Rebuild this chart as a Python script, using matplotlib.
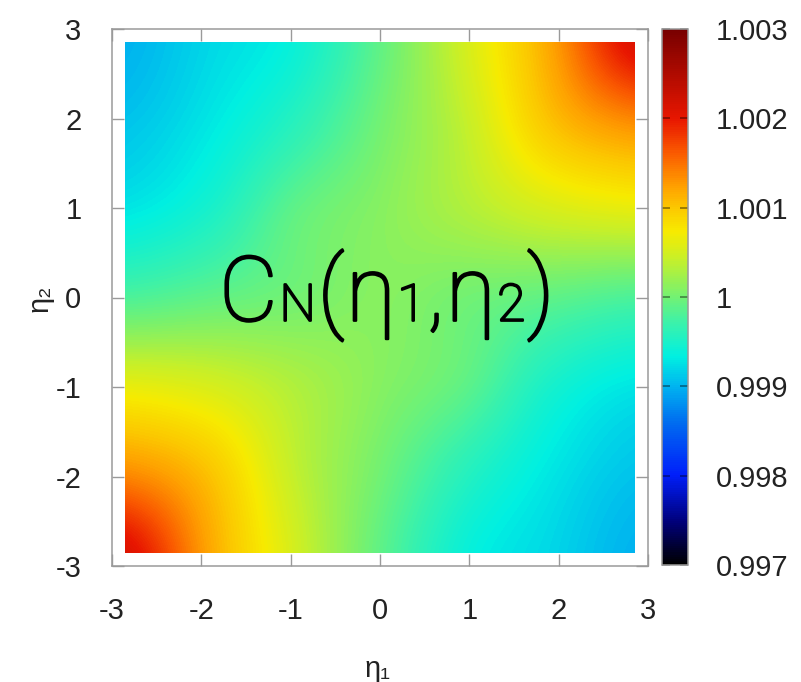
import matplotlib
matplotlib.use("Agg")
import matplotlib.pyplot as plt
import matplotlib.patheffects as pe
import numpy as np
from matplotlib.colors import LinearSegmentedColormap
from matplotlib.patches import Rectangle

plt.rcParams['font.family'] = ['Liberation Sans', 'DejaVu Sans']
plt.rcParams['axes.unicode_minus'] = False

### Data ###

# grid nodes, same for eta1 (columns) and eta2 (rows)
eta_nodes = [-2.85, -1.9, -0.95, 0.0, 0.95, 1.9, 2.85]

# C_N values, first row is eta2 = 2.85, last row eta2 = -2.85
c_rows = [
    [0.9990, 0.9992, 0.9994, 0.9999, 1.0005, 1.0012, 1.0021],
    [0.9991, 0.9993, 0.9996, 1.0000, 1.0004, 1.0010, 1.0013],
    [0.9993, 0.9995, 0.9999, 1.0001, 1.0003, 1.0005, 1.0006],
    [0.9998, 0.9999, 1.0000, 1.0001, 1.0000, 0.9999, 0.9998],
    [1.0006, 1.0005, 1.0003, 1.0001, 0.9999, 0.9995, 0.9993],
    [1.0013, 1.0010, 1.0004, 1.0000, 0.9996, 0.9993, 0.9991],
    [1.0021, 1.0012, 1.0005, 0.9999, 0.9994, 0.9992, 0.9990],
]

axis_ticks = [-3, -2, -1, 0, 1, 2, 3]
cbar_ticks = [0.997, 0.998, 0.999, 1.0, 1.001, 1.002, 1.003]
cbar_labels = ['0.997', '0.998', '0.999', '1', '1.001', '1.002', '1.003']

### Palette (gnuplot-like) ###
palette = LinearSegmentedColormap.from_list('cn', [
    (0.000, (0, 0, 0)),
    (0.078, (0, 0, 120 / 255)),
    (0.167, (0, 30 / 255, 250 / 255)),
    (0.267, (0, 110 / 255, 240 / 255)),
    (0.333, (0, 180 / 255, 240 / 255)),
    (0.389, (0, 240 / 255, 225 / 255)),
    (0.452, (60 / 255, 242 / 255, 170 / 255)),
    (0.500, (115 / 255, 242 / 255, 115 / 255)),
    (0.572, (200 / 255, 240 / 255, 40 / 255)),
    (0.622, (247 / 255, 235 / 255, 0)),
    (0.667, (252 / 255, 200 / 255, 0)),
    (0.707, (255 / 255, 160 / 255, 0)),
    (0.770, (250 / 255, 90 / 255, 0)),
    (0.833, (232 / 255, 22 / 255, 0)),
    (1.000, (120 / 255, 0, 0)),
])

W, H = 801, 682
fig = plt.figure(figsize=(W / 100, H / 100), dpi=100)
ax = fig.add_axes([112 / W, 1 - 566 / H, 536 / W, 537 / H])
cax = fig.add_axes([662 / W, 1 - 565 / H, 26 / W, 536 / H])

Z = np.array(c_rows)
half = (eta_nodes[1] - eta_nodes[0]) / 2
im = ax.imshow(
    Z,
    extent=[eta_nodes[0] - half, eta_nodes[-1] + half,
            eta_nodes[0] - half, eta_nodes[-1] + half],
    origin='upper',
    interpolation='catrom',
    interpolation_stage='data',
    cmap=palette,
    vmin=cbar_ticks[0], vmax=cbar_ticks[-1],
    aspect='auto',
)
im.set_clip_path(Rectangle((eta_nodes[0], eta_nodes[0]),
                           eta_nodes[-1] - eta_nodes[0],
                           eta_nodes[-1] - eta_nodes[0],
                           transform=ax.transData))

ax.set_xlim(-3, 3)
ax.set_ylim(-3, 3)
ax.set_xticks(axis_ticks)
ax.set_yticks(axis_ticks)
ax.tick_params(direction='in', length=8.5, width=1.0, color='#9a9a9a',
               labelcolor='#222222', labelsize=21, pad=22,
               top=True, right=True)
for sp in ax.spines.values():
    sp.set_color('#9a9a9a')
    sp.set_linewidth(1.1)

# colorbar
cb = fig.colorbar(im, cax=cax)
cb.set_ticks(cbar_ticks, labels=cbar_labels)
cb.outline.set_edgecolor('#9a9a9a')
cb.outline.set_linewidth(1.1)
cax.tick_params(direction='in', length=6, width=1.2, color=(0, 0, 0, 0.45),
                labelcolor='#222222', labelsize=21, pad=20,
                left=True, right=True)

# axis labels
fig.text(378 / W, 1 - 677 / H, 'η₁', ha='center', va='baseline',
         fontsize=21, color='#222222')
fig.text(40 / W, 1 - 298 / H, 'η₂', ha='center', va='center',
         rotation=90, fontsize=21, color='#222222')

# big label C_N(eta1,eta2) built from pieces, small ones sitting on the baseline
big, small = 65, 37
pieces = [('C', big), ('N', small), ('(', big), ('η', big), ('1', small),
          (',', big), ('η', big), ('2', small), (')', big)]
renderer = fig.canvas.get_renderer()
x = -1.80
y = -0.26
for s, size in pieces:
    t = ax.text(x, y, s, fontsize=size, va='baseline', ha='left',
                family=['Roboto', 'DejaVu Sans'], fontweight='light',
                color='black',
                path_effects=[pe.withStroke(linewidth=1.6, foreground='black')])
    bb = t.get_window_extent(renderer)
    x = ax.transData.inverted().transform((bb.x1, bb.y0))[0] + 0.02

fig.savefig('out.png', dpi=100)
